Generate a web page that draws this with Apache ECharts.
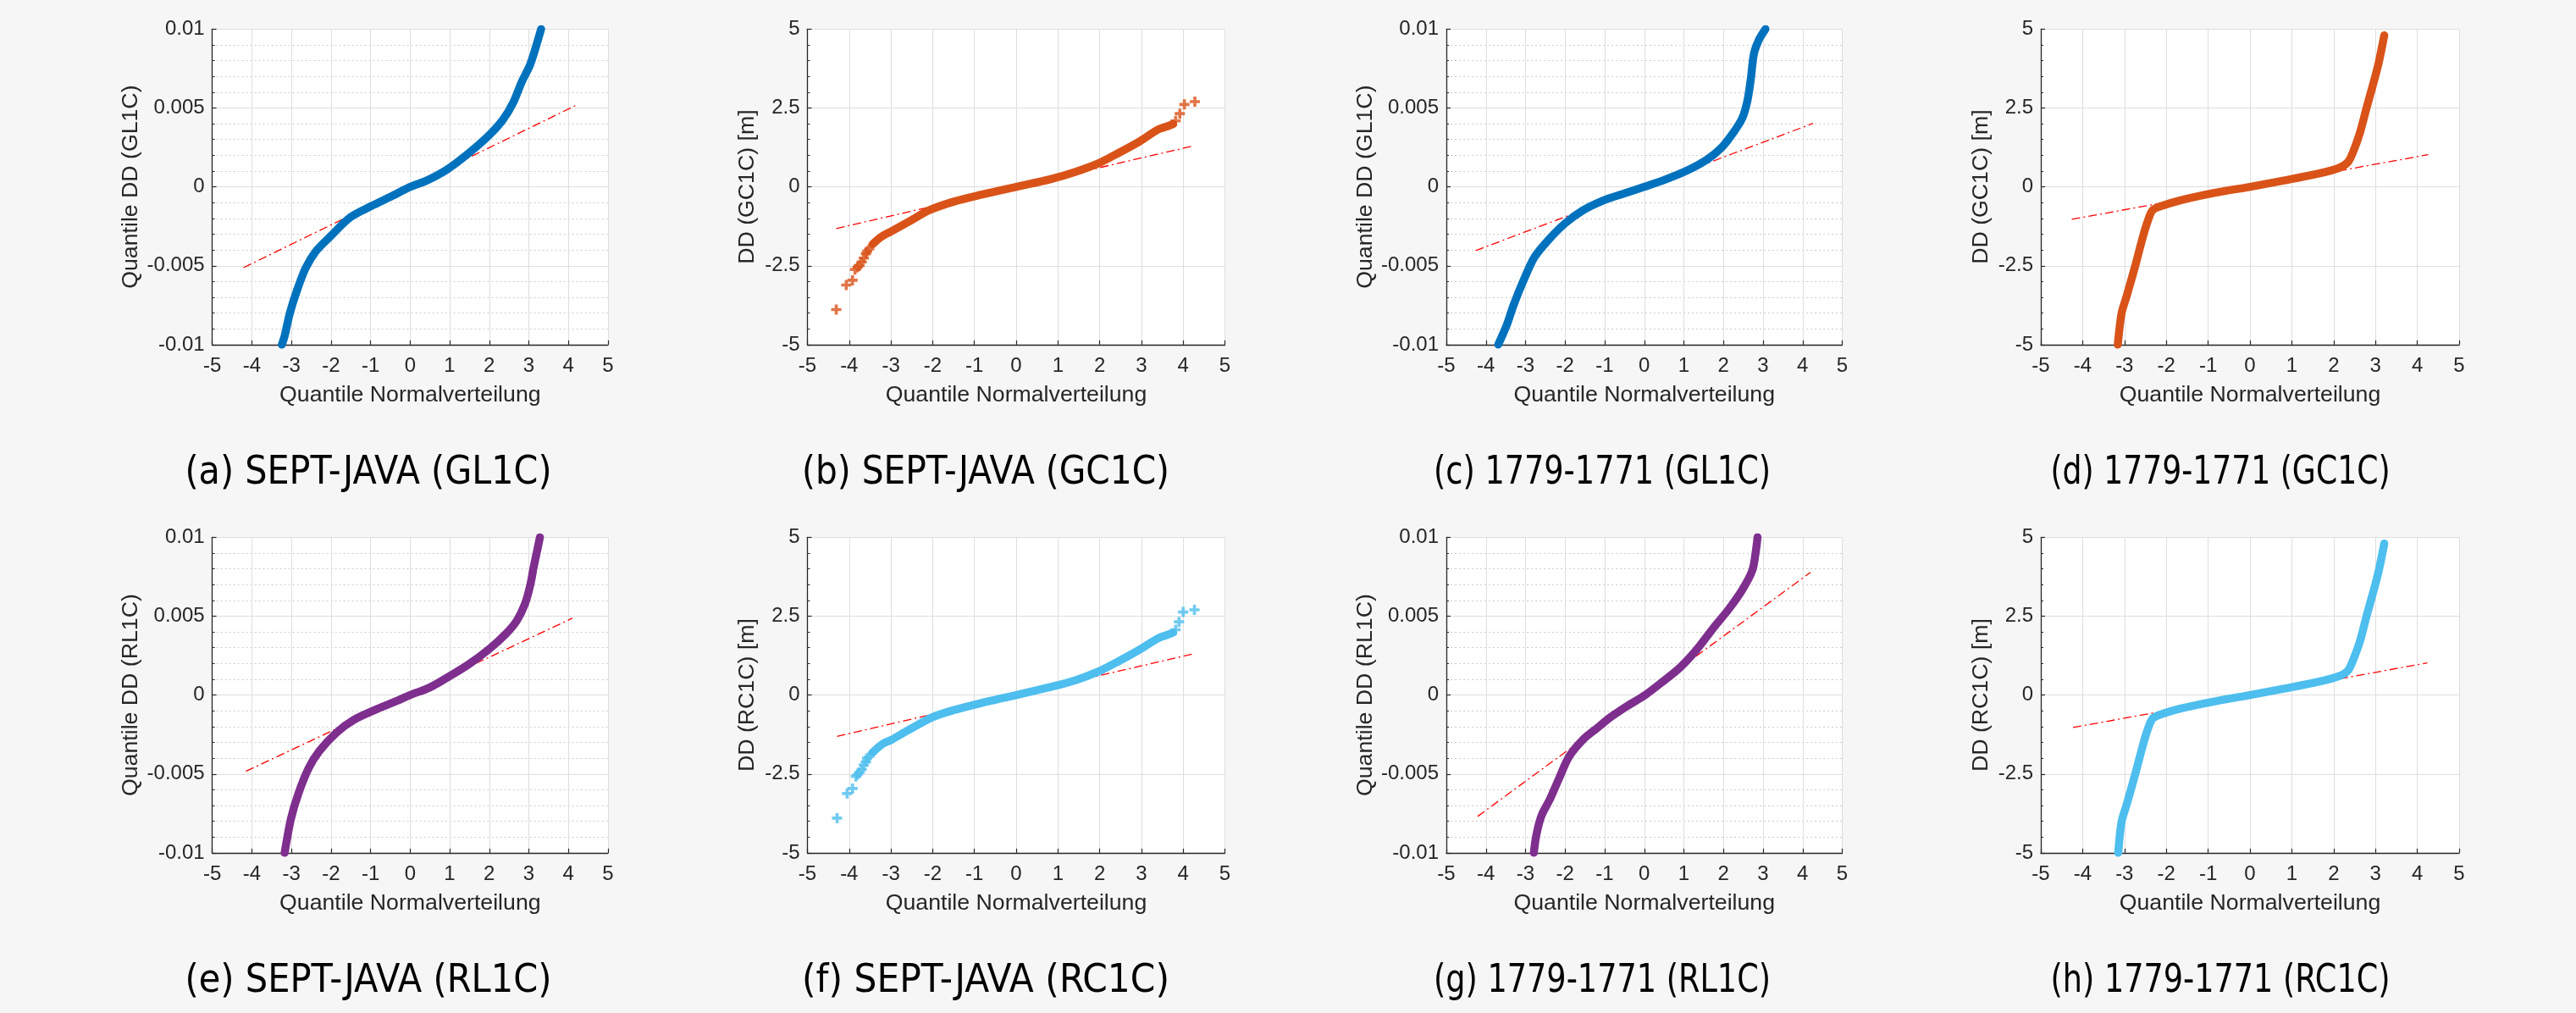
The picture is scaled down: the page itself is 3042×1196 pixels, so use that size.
<!DOCTYPE html>
<html><head><meta charset="utf-8">
<script src="https://cdn.jsdelivr.net/npm/echarts@6/dist/echarts.min.js"></script>
<style>html,body{margin:0;padding:0;background:#f6f6f6;}#c{width:3042px;height:1196px;}</style>
</head><body><div id="c"></div>
<script>
// ---------- tick ranges [min, max, interval] ----------
const xRange = [-5, 5, 1];
const yRangeSmall = [-0.01, 0.01, 0.005];
const yRangeMeter = [-5, 5, 2.5];

// ---------- captions and axis names ----------
const captions = ['(a) SEPT-JAVA (GL1C)', '(b) SEPT-JAVA (GC1C)', '(c) 1779-1771 (GL1C)', '(d) 1779-1771 (GC1C)',
                  '(e) SEPT-JAVA (RL1C)', '(f) SEPT-JAVA (RC1C)', '(g) 1779-1771 (RL1C)', '(h) 1779-1771 (RC1C)'];
const yNames = ['Quantile DD (GL1C)', 'DD (GC1C) [m]', 'Quantile DD (GL1C)', 'DD (GC1C) [m]',
                'Quantile DD (RL1C)', 'DD (RC1C) [m]', 'Quantile DD (RL1C)', 'DD (RC1C) [m]'];
const xName = 'Quantile Normalverteilung';

// ---------- (a) SEPT-JAVA GL1C ----------
const qqA_x = [-3.24,-3.17,-3.04,-2.86,-2.64,-2.38,-2.03,-1.51,-0.98,-0.46,0,0.41,0.94,1.46,1.99,2.34,2.6,2.82,3.03,3.17,3.31];
const qqA_y = [-0.01,-0.00945,-0.00802,-0.00658,-0.00515,-0.00408,-0.00318,-0.00193,-0.00122,-0.00059,0,0.00039,0.00111,0.00209,0.00326,0.00424,0.00531,0.00665,0.00773,0.0088,0.01];
const refA_x = [-4.21, 4.21];
const refA_y = [-0.00512, 0.00519];

// ---------- (b) SEPT-JAVA GC1C ----------
const qqB_x = [-3.44,-3.24,-2.99,-2.57,-2.08,-1.5,-0.84,0,0.82,1.4,1.98,2.475,2.97,3.39,3.63,3.76];
const qqB_y = [-1.82,-1.59,-1.41,-1.1,-0.74,-0.47,-0.25,0,0.24,0.465,0.75,1.09,1.45,1.81,1.92,1.99];
const tailB_x = [-4.31,-4.07,-3.92,-3.86,-3.80,-3.75,-3.70,-3.65,-3.60,-3.57,-3.52,3.82,3.92,4.03,4.28];
const tailB_y = [-3.89,-3.11,-2.96,-2.62,-2.55,-2.49,-2.38,-2.26,-2.12,-2.04,-1.97,2.09,2.32,2.61,2.70];
const refB_x = [-4.31, 4.26];
const refB_y = [-1.32, 1.30];

// ---------- (c) 1779-1771 GL1C ----------
const qqC_x = [-3.69,-3.47,-3.30,-3.04,-2.77,-2.42,-1.99,-1.55,-1.03,-0.5,0,0.55,1.07,1.59,1.94,2.2,2.47,2.6,2.69,2.77,2.9,3.06];
const qqC_y = [-0.01,-0.00873,-0.00748,-0.00587,-0.00444,-0.00336,-0.00229,-0.00149,-0.00086,-0.00041,0,0.00048,0.00102,0.00174,0.00245,0.00326,0.00433,0.0054,0.00683,0.00844,0.00934,0.01];
const refC_x = [-4.26, 4.26];
const refC_y = [-0.00404, 0.00402];

// ---------- (d) 1779-1771 GC1C ----------
const qqD_x = [-3.16,-3.07,-2.95,-2.74,-2.58,-2.46,-2.33,-2.12,-1.67,-0.84,0,0.81,1.64,2.13,2.34,2.46,2.63,2.79,2.96,3.08,3.21];
const qqD_y = [-5,-4.01,-3.47,-2.49,-1.68,-1.15,-0.74,-0.61,-0.43,-0.19,0,0.2,0.42,0.6,0.78,1.09,1.72,2.52,3.33,3.95,4.8];
const refD_x = [-4.26, 4.26];
const refD_y = [-1.03, 1.02];

// ---------- (e) SEPT-JAVA RL1C ----------
const qqE_x = [-3.17,-3.01,-2.82,-2.56,-2.29,-1.86,-1.42,-0.81,-0.37,0,0.5,0.94,1.46,1.99,2.42,2.69,2.9,3.04,3.12,3.21,3.28];
const qqE_y = [-0.01,-0.00784,-0.00623,-0.00462,-0.00354,-0.00238,-0.00157,-0.00086,-0.00041,0,0.00048,0.00111,0.00191,0.0029,0.00388,0.00469,0.00576,0.00701,0.00809,0.00916,0.01];
const refE_x = [-4.15, 4.1];
const refE_y = [-0.00483, 0.00487];

// ---------- (f) SEPT-JAVA RC1C ----------
const qqF_x = [-3.44,-3.2,-2.99,-2.58,-2.0,-1.5,-0.84,0,0.82,1.4,1.98,2.48,2.97,3.39,3.63,3.76];
const qqF_y = [-1.82,-1.55,-1.42,-1.11,-0.70,-0.48,-0.255,0,0.255,0.46,0.75,1.09,1.45,1.79,1.91,1.98];
const tailF_x = [-4.29,-4.05,-3.92,-3.84,-3.80,-3.75,-3.70,-3.65,-3.60,-3.57,-3.52,3.82,3.90,4.0,4.27];
const tailF_y = [-3.90,-3.12,-2.96,-2.58,-2.52,-2.45,-2.36,-2.22,-2.12,-2.0,-1.95,2.07,2.32,2.63,2.70];
const refF_x = [-4.29, 4.26];
const refF_y = [-1.31, 1.31];

// ---------- (g) 1779-1771 RL1C ----------
const qqG_x = [-2.79,-2.73,-2.6,-2.38,-2.16,-1.9,-1.55,-1.2,-0.85,-0.42,0.02,0.46,0.9,1.33,1.77,2.12,2.47,2.73,2.82,2.86];
const qqG_y = [-0.01,-0.00891,-0.00766,-0.00658,-0.00533,-0.0039,-0.00283,-0.00211,-0.0014,-0.00068,0,0.00084,0.00174,0.0029,0.00433,0.0054,0.00665,0.00791,0.00916,0.01];
const refG_x = [-4.21, 4.2];
const refG_y = [-0.00769, 0.00778];

// ---------- (h) 1779-1771 RC1C ----------
const qqH_x = [-3.15,-3.07,-2.95,-2.74,-2.58,-2.46,-2.33,-2.12,-1.67,-0.84,0,0.81,1.64,2.13,2.34,2.46,2.63,2.79,2.96,3.08,3.21];
const qqH_y = [-5,-4.02,-3.48,-2.49,-1.69,-1.15,-0.75,-0.61,-0.43,-0.2,0,0.2,0.42,0.6,0.77,1.09,1.71,2.52,3.33,3.95,4.8];
const refH_x = [-4.23, 4.24];
const refH_y = [-1.03, 1.02];

// ---------- styling / layout ----------
const C_BLUE = '#0072BD', C_ORANGE = '#D95319', C_PURPLE = '#7E2F8E', C_LBLUE = '#4DBEEE';
const zip = (xs, ys) => xs.map((v, i) => [v, ys[i]]);

const panels = [
  {qx: qqA_x, qy: qqA_y, rx: refA_x, ry: refA_y, color: C_BLUE,   small: true},
  {qx: qqB_x, qy: qqB_y, rx: refB_x, ry: refB_y, tx: tailB_x, ty: tailB_y, color: C_ORANGE, small: false},
  {qx: qqC_x, qy: qqC_y, rx: refC_x, ry: refC_y, color: C_BLUE,   small: true},
  {qx: qqD_x, qy: qqD_y, rx: refD_x, ry: refD_y, color: C_ORANGE, small: false},
  {qx: qqE_x, qy: qqE_y, rx: refE_x, ry: refE_y, color: C_PURPLE, small: true},
  {qx: qqF_x, qy: qqF_y, rx: refF_x, ry: refF_y, tx: tailF_x, ty: tailF_y, color: C_LBLUE, small: false},
  {qx: qqG_x, qy: qqG_y, rx: refG_x, ry: refG_y, color: C_PURPLE, small: true},
  {qx: qqH_x, qy: qqH_y, rx: refH_x, ry: refH_y, color: C_LBLUE,  small: false}
];

const colLeft = [250.6, 953.5, 1708, 2410];
const colWidth = [467.4, 493, 467.5, 494];
const rowTop = [34.3, 634.3];
const plotH = 372.6;
const capX = [435, 1164, 1892, 2622];
const capY = [559, 1159];
const capWidth = [433, 434, 398, 401];   // rendered caption widths (px) per column

const AX = '#262626';
const TICK_FONT = "'Liberation Sans', Arial, Helvetica, sans-serif";
const CAP_FONT_FAMILY = "'DejaVu Sans', sans-serif";
const CAP_SIZE = 46;
const PLUS = 'path://M3.5,0H6.5V3.5H10V6.5H6.5V10H3.5V6.5H0V3.5H3.5Z';

const measureCtx = document.createElement('canvas').getContext('2d');
measureCtx.font = CAP_SIZE + 'px ' + CAP_FONT_FAMILY;

const grids = [], xAxes = [], yAxes = [], series = [], graphics = [];
panels.forEach((p, i) => {
  const col = i % 4, row = Math.floor(i / 4);
  grids.push({left: colLeft[col], top: rowTop[row], width: colWidth[col], height: plotH,
              show: true, backgroundColor: '#ffffff', borderWidth: 0, containLabel: false});
  xAxes.push({
    type: 'value', gridIndex: i, min: xRange[0], max: xRange[1], interval: xRange[2],
    name: xName, nameLocation: 'middle', nameGap: 46,
    nameTextStyle: {fontSize: 26.7, color: AX, fontFamily: TICK_FONT},
    axisLine: {show: true, onZero: false, lineStyle: {color: AX, width: 1.3}},
    axisTick: {show: true, inside: true, length: 5, lineStyle: {color: AX, width: 1.2}},
    axisLabel: {fontSize: 24, color: AX, fontFamily: TICK_FONT, margin: 13},
    splitLine: {show: true, lineStyle: {color: '#dedede', width: 1}}
  });
  const yr = p.small ? yRangeSmall : yRangeMeter;
  yAxes.push({
    type: 'value', gridIndex: i, min: yr[0], max: yr[1], interval: yr[2],
    name: yNames[i], nameLocation: 'middle', nameGap: p.small ? 82 : 57,
    nameTextStyle: {fontSize: 26.7, color: AX, fontFamily: TICK_FONT},
    axisLine: {show: true, onZero: false, lineStyle: {color: AX, width: 1.3}},
    axisTick: {show: true, inside: true, length: 5, lineStyle: {color: AX, width: 1.2}},
    minorTick: {show: true, splitNumber: 5, length: 3, lineStyle: {color: AX, width: 1}},
    axisLabel: {fontSize: 24, color: AX, fontFamily: TICK_FONT, margin: 9},
    splitLine: {show: true, lineStyle: {color: '#dedede', width: 1}},
    minorSplitLine: {show: p.small, lineStyle: {color: '#cdcdcd', width: 1, type: [2, 3]}}
  });
  series.push({
    type: 'line', xAxisIndex: i, yAxisIndex: i, data: zip(p.rx, p.ry),
    symbol: 'none', silent: true, z: 2,
    lineStyle: {color: '#ff0000', width: 1.3, type: [10, 4, 2, 4]}
  });
  series.push({
    type: 'line', xAxisIndex: i, yAxisIndex: i, data: zip(p.qx, p.qy),
    symbol: 'none', smooth: 0.3, silent: true, z: 3, clip: true,
    lineStyle: {color: p.color, width: 9.5, cap: 'round', join: 'round'}
  });
  if (p.tx) {
    series.push({
      type: 'scatter', xAxisIndex: i, yAxisIndex: i, data: zip(p.tx, p.ty),
      symbol: PLUS, symbolSize: 12, silent: true, z: 4,
      itemStyle: {color: p.color}
    });
  }
  const w = measureCtx.measureText(captions[i]).width || capWidth[col];
  graphics.push({
    type: 'text', x: capX[col], y: capY[row], silent: true,
    scaleX: capWidth[col] / w, scaleY: 1,
    style: {text: captions[i], fontSize: CAP_SIZE, fontFamily: CAP_FONT_FAMILY,
            fill: '#000000', align: 'center', verticalAlign: 'middle'}
  });
});

const chart = echarts.init(document.getElementById('c'), null, {renderer: 'canvas'});
chart.setOption({
  backgroundColor: '#f6f6f6',
  animation: false,
  grid: grids, xAxis: xAxes, yAxis: yAxes, series: series, graphic: graphics
});
</script>
</body></html>
